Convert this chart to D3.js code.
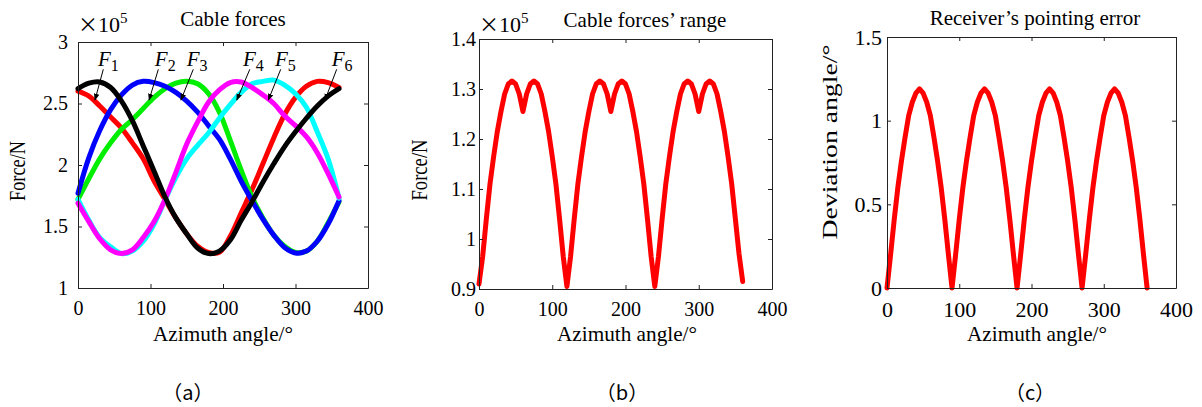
<!DOCTYPE html>
<html><head><meta charset="utf-8">
<script src="https://cdn.jsdelivr.net/npm/d3@7"></script>
<style>
body{margin:0;background:#fff}
svg text{font-family:"Liberation Serif","Times New Roman",serif;fill:#000}
</style>
</head><body>
<svg id="chart" width="1202" height="407"></svg>
<script>
// ---------------- DATA ----------------
const xTicks = [0, 100, 200, 300, 400];

// (a) Cable forces (x10^5 N), sampled every 15 degrees
const anglesA = [0,15,30,45,60,75,90,105,120,135,150,165,180,195,210,225,240,255,270,285,300,315,330,345,360];
const F1 = [2.60,2.56,2.48,2.39,2.30,2.18,2.05,1.87,1.72,1.57,1.44,1.34,1.29,1.29,1.42,1.61,1.80,2.01,2.22,2.41,2.55,2.64,2.68,2.67,2.63];
const F2 = [1.72,1.89,2.05,2.18,2.29,2.37,2.46,2.55,2.62,2.665,2.68,2.66,2.58,2.43,2.20,1.96,1.74,1.57,1.43,1.34,1.29,1.30,1.38,1.53,1.70];
const F3 = [1.77,2.06,2.28,2.45,2.57,2.65,2.68,2.67,2.64,2.59,2.52,2.43,2.32,2.21,2.05,1.87,1.71,1.56,1.43,1.33,1.285,1.30,1.38,1.52,1.71];
const F4 = [1.72,1.55,1.41,1.335,1.28,1.30,1.38,1.52,1.715,1.90,2.05,2.16,2.26,2.38,2.49,2.59,2.66,2.68,2.69,2.65,2.58,2.47,2.27,2.05,1.73];
const F5 = [1.69,1.54,1.40,1.31,1.28,1.31,1.41,1.54,1.72,1.94,2.17,2.35,2.51,2.61,2.67,2.675,2.63,2.57,2.50,2.40,2.32,2.23,2.10,1.93,1.74];
const F6 = [2.62,2.665,2.675,2.63,2.52,2.36,2.155,1.95,1.74,1.57,1.44,1.325,1.28,1.30,1.39,1.55,1.70,1.86,2.01,2.15,2.27,2.38,2.48,2.56,2.62];
const seriesNamesA = ["1","2","3","4","5","6"];
const seriesColorsA = ["#ff0000","#00ee00","#0000ff","#00ffff","#ff00ff","#000000"];
const yTicksA = [1, 1.5, 2, 2.5, 3];
// annotation: label position and arrow (data coordinates: angle, force)
const annLabelX = [27.6, 106, 150, 227.6, 271.7, 350];
const annLabelY = 2.805;
const annFromX  = [34.9, 110.8, 159, 237, 279.6, 356.8];
const annToX    = [23.4, 98, 142, 219, 262.5, 340.7];
const annFromY  = 2.778;
const annToY    = 2.528;

// (b) and (c): sampled every 5 degrees
const anglesBC = [0,5,10,15,20,25,30,35,40,45,50,55,60,65,70,75,80,85,90,95,100,105,110,115,
  120,125,130,135,140,145,150,155,160,165,170,175,180,185,190,195,200,205,210,215,220,225,230,235,
  240,245,250,255,260,265,270,275,280,285,290,295,300,305,310,315,320,325,330,335,340,345,350,355,360];
// (b) Cable forces' range (x10^5 N)
const rangeB = [0.91,0.965,1.04,1.11,1.165,1.215,1.255,1.29,1.31,1.316,1.31,1.29,1.255,1.29,1.31,1.316,1.31,1.29,1.255,1.215,1.165,1.11,1.04,0.965,
  0.905,0.965,1.04,1.11,1.165,1.215,1.255,1.29,1.31,1.316,1.31,1.29,1.255,1.29,1.31,1.316,1.31,1.29,1.255,1.215,1.165,1.11,1.04,0.965,
  0.905,0.965,1.04,1.11,1.165,1.215,1.255,1.29,1.31,1.316,1.31,1.29,1.255,1.29,1.31,1.316,1.31,1.29,1.255,1.215,1.165,1.11,1.04,0.97,0.915];
const yTicksB = [0.9, 1.0, 1.1, 1.2, 1.3, 1.4];
// (c) Receiver's pointing error (deg)
const errC = [0.0,0.20,0.41,0.60,0.76,0.90,1.03,1.11,1.165,1.19,1.165,1.11,1.03,0.90,0.76,0.60,0.41,0.20,
  0.0,0.20,0.41,0.60,0.76,0.90,1.03,1.11,1.165,1.19,1.165,1.11,1.03,0.90,0.76,0.60,0.41,0.20,
  0.0,0.20,0.41,0.60,0.76,0.90,1.03,1.11,1.165,1.19,1.165,1.11,1.03,0.90,0.76,0.60,0.41,0.20,
  0.0,0.20,0.41,0.60,0.76,0.90,1.03,1.11,1.165,1.19,1.165,1.11,1.03,0.90,0.76,0.60,0.41,0.20,0.0];
const yTicksC = [0, 0.5, 1, 1.5];

// ---------------- DRAW ----------------
const svg = d3.select("#chart");
const SERIF = '"Liberation Serif","Times New Roman",serif';
const CJK = '"Noto Sans CJK SC","Liberation Serif",serif';

function panel(o) {
  const x = d3.scaleLinear().domain([0, 400]).range([o.x0, o.x1]);
  const y = d3.scaleLinear().domain(o.yDomain).range([o.y0, o.y1]);
  const g = svg.append("g");

  // curves
  o.series.forEach(s => {
    g.append("path")
      .datum(s.values)
      .attr("fill", "none")
      .attr("stroke", s.color)
      .attr("stroke-width", 5)
      .attr("stroke-linejoin", "round")
      .attr("stroke-linecap", "round")
      .attr("d", d3.line().x((d, i) => x(o.angles[i])).y(d => y(d)).curve(o.curve));
  });

  const styleAxis = (sel, fs) => {
    sel.attr("font-family", null).attr("font-size", null);
    sel.select(".domain").attr("stroke", "#222").attr("stroke-width", 1);
    sel.selectAll(".tick line").attr("stroke", "#222");
    sel.selectAll("text").style("font-size", fs + "px").style("fill", "#000")
      .style("font-family", SERIF);
  };

  g.append("g").attr("transform", `translate(0,${o.y0})`)
    .call(d3.axisBottom(x).tickValues(xTicks).tickSizeInner(-4).tickSizeOuter(0).tickPadding(o.xPad))
    .call(s => styleAxis(s, o.fs));
  g.append("g").attr("transform", `translate(0,${o.y1})`)
    .call(d3.axisTop(x).tickValues(xTicks).tickSizeInner(-4).tickSizeOuter(0).tickFormat(""))
    .call(s => styleAxis(s, o.fs));
  g.append("g").attr("transform", `translate(${o.x0},0)`)
    .call(d3.axisLeft(y).tickValues(o.yTicks).tickSizeInner(-4).tickSizeOuter(0).tickPadding(o.yPad).tickFormat(o.fmtY))
    .call(s => styleAxis(s, o.fs));
  g.append("g").attr("transform", `translate(${o.x1},0)`)
    .call(d3.axisRight(y).tickValues(o.yTicks).tickSizeInner(-4).tickSizeOuter(0).tickFormat(""))
    .call(s => styleAxis(s, o.fs));

  // title
  g.append("text").attr("x", o.titleX).attr("y", o.titleY).attr("text-anchor", "middle")
    .style("font-size", o.titleFs + "px").text(o.title);
  // x label
  g.append("text").attr("x", o.xlabX).attr("y", 341).attr("text-anchor", "middle")
    .style("font-size", "21px").attr("textLength", 140).attr("lengthAdjust", "spacingAndGlyphs")
    .text("Azimuth angle/°");
  // y label
  g.append("text").attr("transform", `translate(${o.ylabX},${o.ylabY}) rotate(-90)`)
    .attr("text-anchor", "middle").style("font-size", o.ylabFs + "px")
    .attr("textLength", o.ylabLen).attr("lengthAdjust", "spacingAndGlyphs").text(o.ylab);
  // exponent
  if (o.exp) {
    const t = g.append("text").attr("x", o.x0).attr("y", 32).style("font-size", "22px");
    t.append("tspan").style("font-family", CJK).style("font-size", "20px").text("×");
    t.append("tspan").text("10");
    t.append("tspan").attr("dy", -9).style("font-size", "15px").text("5");
  }
  // sub-figure tag
  svg.append("text").attr("x", o.tagX).attr("y", 400).attr("text-anchor", "middle")
    .style("font-size", "20px").style("font-family", CJK)
    .text(o.tag);
  return {x, y, g};
}

// (a)
const pa = panel({
  x0: 78, x1: 368, y0: 288, y1: 42, yDomain: [1, 3], yTicks: yTicksA,
  angles: anglesA, curve: d3.curveCatmullRom,
  series: [F1, F2, F3, F4, F5, F6].map((v, i) => ({values: v, color: seriesColorsA[i]})),
  fs: 20, xPad: 13, yPad: 10, fmtY: d3.format(""),
  title: "Cable forces", titleX: 233, titleY: 26, titleFs: 21,
  xlabX: 223,
  ylab: "Force/N", ylabX: 25, ylabY: 171, ylabFs: 23, ylabLen: 60, exp: true,
  tag: "（a）", tagX: 188
});

// annotations in (a)
const defs = svg.append("defs");
defs.append("marker").attr("id", "arr").attr("viewBox", "0 0 10 10")
  .attr("refX", 9).attr("refY", 5).attr("markerWidth", 7).attr("markerHeight", 7)
  .attr("markerUnits", "userSpaceOnUse").attr("orient", "auto")
  .append("path").attr("d", "M0,1 L10,5 L0,9 Z").attr("fill", "#000");
seriesNamesA.forEach((n, i) => {
  const t = pa.g.append("text").attr("x", pa.x(annLabelX[i])).attr("y", pa.y(annLabelY)).style("font-size", "21px");
  t.append("tspan").style("font-style", "italic").text("F");
  t.append("tspan").attr("dy", 5).style("font-size", "16px").text(n);
  pa.g.append("line")
    .attr("x1", pa.x(annFromX[i])).attr("y1", pa.y(annFromY))
    .attr("x2", pa.x(annToX[i])).attr("y2", pa.y(annToY))
    .attr("stroke", "#000").attr("stroke-width", 1).attr("marker-end", "url(#arr)");
});

// (b)
panel({
  x0: 479, x1: 772, y0: 289, y1: 39, yDomain: [0.9, 1.4], yTicks: yTicksB,
  angles: anglesBC, curve: d3.curveLinear,
  series: [{values: rangeB, color: "#ff0000"}],
  fs: 20, xPad: 13, yPad: 3, fmtY: d => d3.format("")(+d.toFixed(1)),
  title: "Cable forces’ range", titleX: 645, titleY: 27, titleFs: 21,
  xlabX: 627,
  ylab: "Force/N", ylabX: 427, ylabY: 170, ylabFs: 23, ylabLen: 61, exp: true,
  tag: "（b）", tagX: 622
});

// (c)
panel({
  x0: 887, x1: 1176, y0: 288, y1: 37, yDomain: [0, 1.5], yTicks: yTicksC,
  angles: anglesBC, curve: d3.curveLinear,
  series: [{values: errC, color: "#ff0000"}],
  fs: 22, xPad: 13, yPad: 5, fmtY: d3.format(""),
  title: "Receiver’s pointing error", titleX: 1035, titleY: 25, titleFs: 21,
  xlabX: 1037,
  ylab: "Deviation angle/°", ylabX: 837, ylabY: 142, ylabFs: 22, ylabLen: 195, exp: false,
  tag: "（c）", tagX: 1030
});
</script>
</body></html>
